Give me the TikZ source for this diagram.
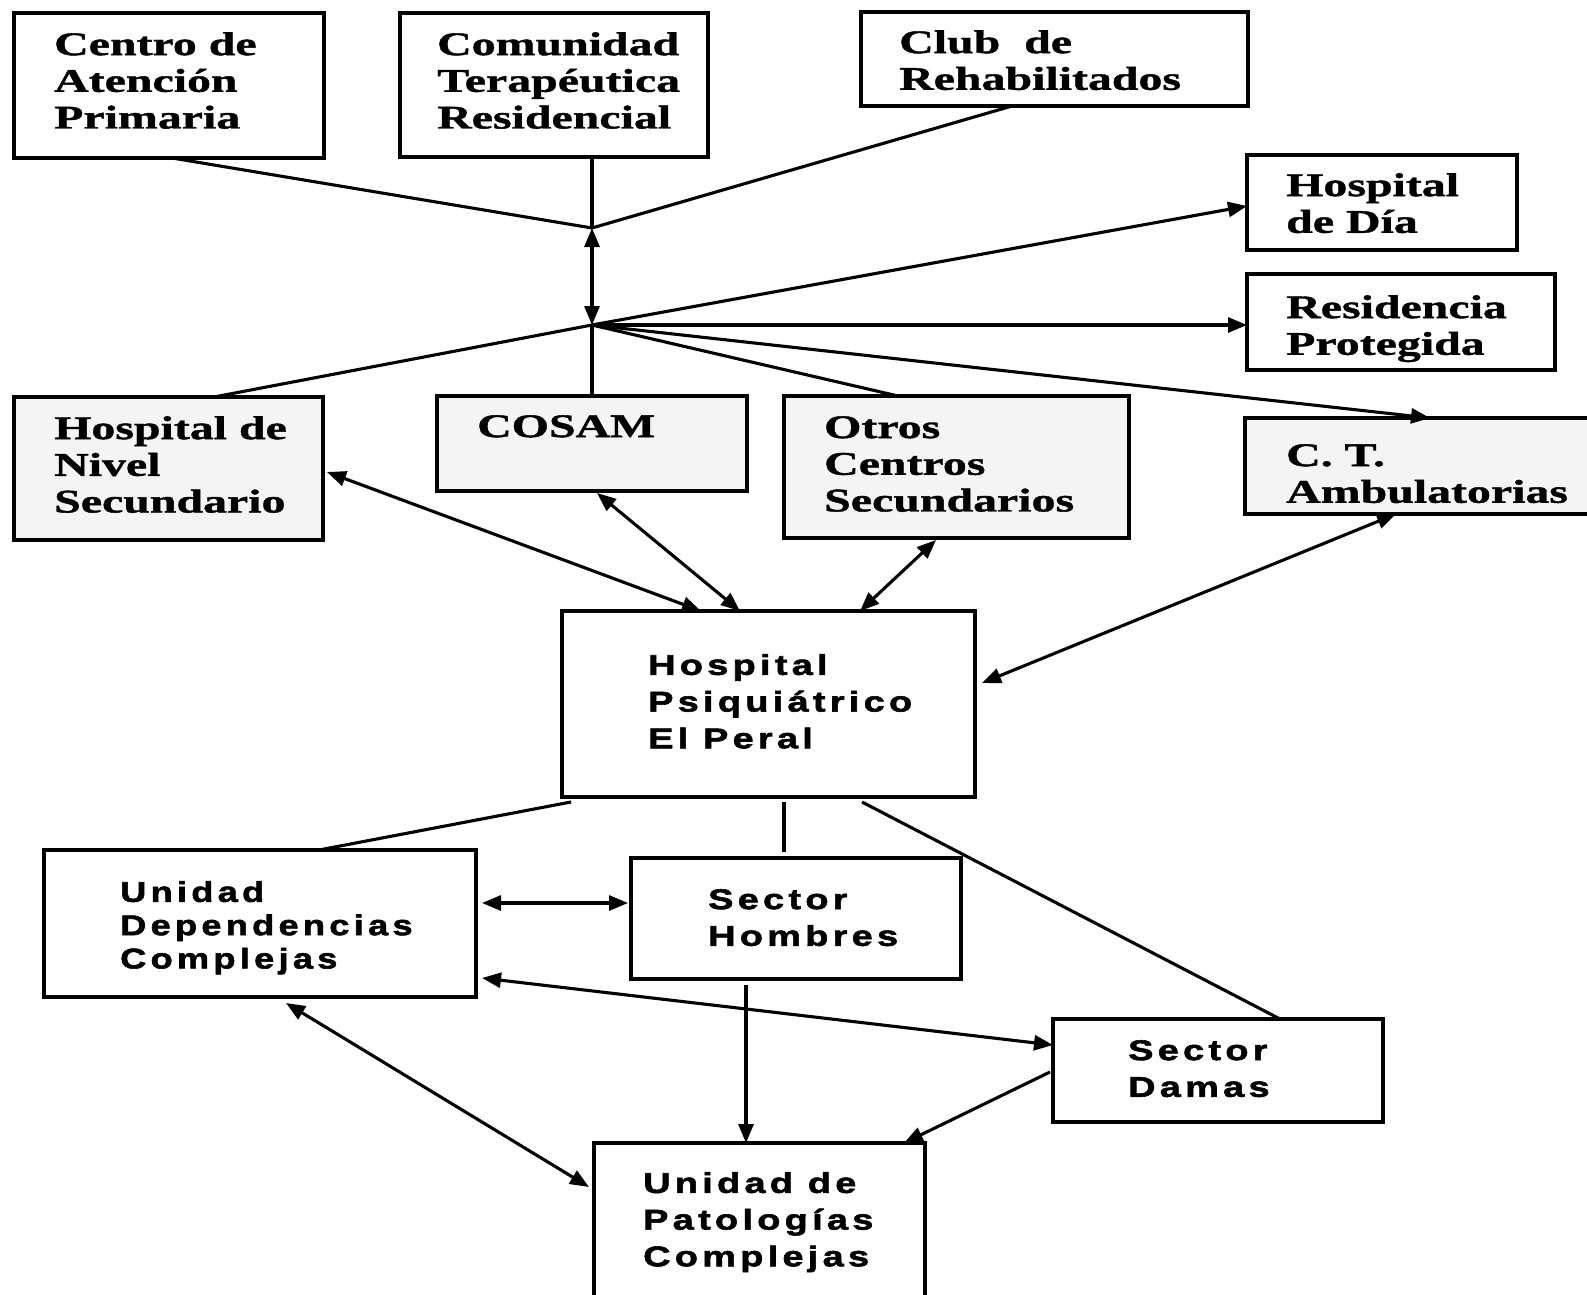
\documentclass[tikz,border=0pt]{standalone}
\usepackage{fontspec}
\usetikzlibrary{arrows.meta,calc}
\newfontfamily\topfont{Liberation Serif}[FakeStretch=1.45,FakeBold=1.2]
\newfontfamily\lowfont{Liberation Sans}[FakeStretch=1.33,LetterSpace=15,FakeBold=2]
\newfontfamily\udcfont{Liberation Sans}[FakeStretch=1.27,LetterSpace=15,FakeBold=2]
\tikzset{
 box/.style={draw, line width=3.3pt, rectangle, anchor=north west, inner sep=0pt, outer sep=0pt},
 graybox/.style={box, fill=gray!9},
 ttext/.style={anchor=north west, inner sep=0pt, align=left, font=\topfont\bfseries\fontsize{33}{36.7}\selectfont},
 ltext/.style={anchor=north west, inner sep=0pt, align=left, font=\lowfont\bfseries\fontsize{28.5}{36.7}\selectfont},
 conn/.style={line width=3.1pt},
 arr/.style={conn, -{Triangle[length=19pt,width=15pt]}},
 darr/.style={conn, {Triangle[length=19pt,width=15pt]}-{Triangle[length=19pt,width=15pt]}},
}
\begin{document}
\begin{tikzpicture}[x=1pt,y=-1pt]
\fill[white] (0,0) rectangle (1587,1295);
\useasboundingbox (0,0) rectangle (1587,1295);
% boxes
\node[box, minimum width=310pt, minimum height=145pt] (cap) at (14,13) {};
\node[box, minimum width=308pt, minimum height=144pt] (ctr) at (400,13) {};
\node[box, minimum width=387pt, minimum height=94pt] (club) at (861,12) {};
\node[box, minimum width=270pt, minimum height=95pt] (hdia) at (1247,155) {};
\node[box, minimum width=308pt, minimum height=96pt] (resp) at (1247,274) {};
\node[graybox, minimum width=309pt, minimum height=143pt] (hns) at (14,397) {};
\node[graybox, minimum width=310pt, minimum height=95pt] (cosam) at (437,396) {};
\node[graybox, minimum width=345pt, minimum height=142pt] (otros) at (784,396) {};
\node[graybox, minimum width=355pt, minimum height=96pt] (cta) at (1245,418) {};
\node[box, minimum width=413pt, minimum height=186pt] (hp) at (562,611) {};
\node[box, minimum width=432pt, minimum height=147pt] (udc) at (44,850) {};
\node[box, minimum width=330pt, minimum height=121pt] (sh) at (631,858) {};
\node[box, minimum width=330pt, minimum height=103pt] (sd) at (1053,1019) {};
\node[box, minimum width=331pt, minimum height=170pt] (upc) at (594,1143) {};
% texts
\node[ttext] (tcap) at (54,32) {Centro de\\Atención\\Primaria};
\node[ttext] (tctr) at (437,32) {Comunidad\\Terapéutica\\Residencial};
\node[ttext] (tclub) at (899,30) {Club\ \ de\\Rehabilitados};
\node[ttext] (thdia) at (1286,173) {Hospital\\de Día};
\node[ttext] (tresp) at (1286,295) {Residencia\\Protegida};
\node[ttext] (thns) at (54,416) {Hospital de\\Nivel\\Secundario};
\node[ttext] (tcosam) at (477,415) {COSAM};
\node[ttext] (totros) at (824,416) {Otros\\Centros\\Secundarios};
\node[ttext] (tcta) at (1286,444) {C. T.\\Ambulatorias};
\node[ltext] (thp) at (648,654) {Hospital\\Psiquiátrico\\El Peral};
\node[ltext, font=\udcfont\bfseries\fontsize{28.5}{33.3}\selectfont] (tudc) at (120,881) {Unidad\\Dependencias\\Complejas};
\node[ltext] (tsh) at (708,889) {Sector\\Hombres};
\node[ltext] (tsd) at (1128,1040) {Sector\\Damas};
\node[ltext] (tupc) at (643,1172) {Unidad de\\Patologías\\Complejas};
% junctions
\coordinate (j1) at (592,228);
\coordinate (j2) at (592,325);
% upper connectors
\draw[conn] ($(cap.south west)+(158,0)$) -- (j1);
\draw[conn] (ctr.south -| j1) -- (j1);
\draw[conn] ($(club.south west)+(151,0)$) -- (j1);
\draw[darr] (j2) -- (j1);
\draw[conn] ($(hns.north west)+(200,0)$) -- (j2);
\draw[arr] (j2) -- ($(hdia.north west)+(0,51)$);
\draw[arr] (j2) -- (j2 -| resp.west);
\draw[conn] (cosam.north -| j2) -- (j2);
\draw[conn] ($(otros.north west)+(114,0)$) -- (j2);
\draw[arr] (j2) -- ($(cta.north west)+(185,0)$);
% to hospital psiquiatrico
\draw[darr] ($(hns.north east)+(4,75)$) -- ($(hp.north west)+(139,0)$);
\draw[darr] ($(cosam.south west)+(160,2)$) -- ($(hp.north west)+(178,0)$);
\draw[darr] ($(otros.south west)+(152,2)$) -- ($(hp.north west)+(298,0)$);
\draw[darr] ($(cta.south west)+(151,0)$) -- ($(hp.north east)+(7,72)$);
% lower connectors
\draw[conn] ($(hp.south west)+(9,5)$) -- ($(udc.north west)+(275,0)$);
\draw[conn] ($(hp.south west)+(222,5)$) -- ($(sh.north west)+(153,-6)$);
\draw[conn] ($(hp.south west)+(300,5)$) -- ($(sd.north west)+(227,0)$);
\draw[darr] ($(udc.north east)+(6,53)$) -- ($(sh.north west)+(-3,45)$);
\draw[darr] ($(udc.north east)+(6,128)$) -- ($(sd.north west)+(0,26)$);
\draw[darr] ($(udc.south west)+(242,6)$) -- ($(upc.north west)+(-5,44)$);
\draw[arr] ($(sh.south west)+(115,6)$) -- ($(upc.north west)+(152,0)$);
\draw[arr] ($(sd.north west)+(-3,53)$) -- ($(upc.north west)+(310,0)$);
\end{tikzpicture}
\end{document}
